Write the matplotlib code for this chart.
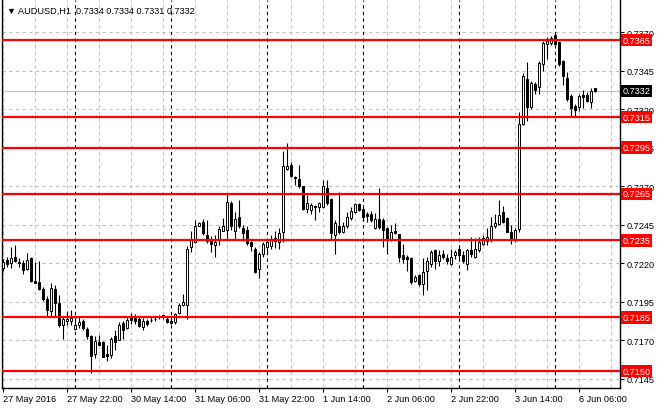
import matplotlib
matplotlib.use('Agg')
import matplotlib.pyplot as plt
import numpy as np

plt.rcParams['font.family'] = ['Liberation Sans', 'DejaVu Sans']

# AUDUSD H1 bars, 27 May 2016 06:00 -> 6 Jun 2016 10:00
opens = [
    0.72168, 0.72219, 0.72205, 0.72243, 0.72211, 0.72200, 0.72164, 0.72236, 0.72088, 0.72076,
    0.72030, 0.71966, 0.71891, 0.72034, 0.71945, 0.71802, 0.71823, 0.71823, 0.71770, 0.71802,
    0.71823, 0.71774, 0.71727, 0.71614, 0.71689, 0.71689, 0.71608, 0.71604, 0.71727, 0.71704,
    0.71815, 0.71781, 0.71844, 0.71844, 0.71839, 0.71783, 0.71826, 0.71831, 0.71839, 0.71848,
    0.71863, 0.71839, 0.71826, 0.71816, 0.71874, 0.71928, 0.71928, 0.72308, 0.72338, 0.72444,
    0.72467, 0.72386, 0.72347, 0.72317, 0.72353, 0.72407, 0.72418, 0.72590, 0.72407, 0.72500,
    0.72428, 0.72418, 0.72338, 0.72296, 0.72160, 0.72263, 0.72306, 0.72313, 0.72344, 0.72335,
    0.72400, 0.72814, 0.72836, 0.72760, 0.72749, 0.72699, 0.72551, 0.72546, 0.72570, 0.72568,
    0.72568, 0.72688, 0.72618, 0.72383, 0.72444, 0.72405, 0.72444, 0.72492, 0.72531, 0.72583,
    0.72553, 0.72518, 0.72518, 0.72431, 0.72487, 0.72481, 0.72431, 0.72356, 0.72409, 0.72387,
    0.72255, 0.72240, 0.72236, 0.72087, 0.72124, 0.72065, 0.72152, 0.72196, 0.72284, 0.72212,
    0.72262, 0.72233, 0.72196, 0.72255, 0.72290, 0.72255, 0.72196, 0.72284, 0.72240, 0.72284,
    0.72328, 0.72343, 0.72350, 0.72444, 0.72452, 0.72531, 0.72492, 0.72404, 0.72350, 0.72425,
    0.73105, 0.73397, 0.73213, 0.73365, 0.73343, 0.73494, 0.73624, 0.73630, 0.73682, 0.73639,
    0.73516, 0.73401, 0.73289, 0.73224, 0.73213, 0.73293, 0.73293, 0.73250, 0.73340,
]
highs = [
    0.72228, 0.72243, 0.72307, 0.72317, 0.72232, 0.72222, 0.72264, 0.72243, 0.72207, 0.72215,
    0.72045, 0.71987, 0.72072, 0.72062, 0.71994, 0.71853, 0.71887, 0.71896, 0.71860, 0.71853,
    0.71838, 0.71785, 0.71732, 0.71725, 0.71732, 0.71695, 0.71668, 0.71721, 0.71768, 0.71817,
    0.71828, 0.71849, 0.71874, 0.71869, 0.71848, 0.71844, 0.71837, 0.71848, 0.71852, 0.71861,
    0.71865, 0.71848, 0.71848, 0.71880, 0.71941, 0.71999, 0.72310, 0.72407, 0.72482, 0.72471,
    0.72489, 0.72482, 0.72375, 0.72381, 0.72439, 0.72497, 0.72654, 0.72605, 0.72536, 0.72611,
    0.72450, 0.72439, 0.72347, 0.72306, 0.72274, 0.72335, 0.72344, 0.72383, 0.72409, 0.72426,
    0.72928, 0.72982, 0.72858, 0.72764, 0.72841, 0.72703, 0.72644, 0.72590, 0.72579, 0.72601,
    0.72742, 0.72742, 0.72623, 0.72481, 0.72666, 0.72470, 0.72531, 0.72568, 0.72590, 0.72590,
    0.72568, 0.72535, 0.72540, 0.72524, 0.72688, 0.72492, 0.72437, 0.72448, 0.72459, 0.72393,
    0.72328, 0.72251, 0.72240, 0.72124, 0.72131, 0.72233, 0.72240, 0.72284, 0.72295, 0.72284,
    0.72284, 0.72262, 0.72295, 0.72284, 0.72306, 0.72277, 0.72295, 0.72371, 0.72361, 0.72371,
    0.72382, 0.72426, 0.72503, 0.72518, 0.72612, 0.72569, 0.72503, 0.72448, 0.72426, 0.73181,
    0.73436, 0.73505, 0.73386, 0.73375, 0.73516, 0.73645, 0.73667, 0.73678, 0.73689, 0.73645,
    0.73522, 0.73440, 0.73300, 0.73235, 0.73300, 0.73328, 0.73311, 0.73337, 0.73340,
]
lows = [
    0.72147, 0.72173, 0.72168, 0.72207, 0.72173, 0.72130, 0.72158, 0.72079, 0.72072, 0.72026,
    0.71955, 0.71860, 0.71855, 0.71860, 0.71785, 0.71710, 0.71802, 0.71802, 0.71764, 0.71781,
    0.71768, 0.71710, 0.71487, 0.71583, 0.71668, 0.71589, 0.71568, 0.71583, 0.71636, 0.71700,
    0.71710, 0.71774, 0.71805, 0.71805, 0.71788, 0.71766, 0.71794, 0.71816, 0.71826, 0.71837,
    0.71837, 0.71809, 0.71805, 0.71805, 0.71869, 0.71923, 0.71837, 0.72274, 0.72332, 0.72439,
    0.72386, 0.72332, 0.72274, 0.72241, 0.72321, 0.72407, 0.72353, 0.72418, 0.72353, 0.72428,
    0.72343, 0.72321, 0.72282, 0.72139, 0.72104, 0.72241, 0.72274, 0.72296, 0.72300, 0.72296,
    0.72339, 0.72808, 0.72758, 0.72710, 0.72688, 0.72546, 0.72524, 0.72518, 0.72481, 0.72535,
    0.72562, 0.72579, 0.72350, 0.72263, 0.72387, 0.72394, 0.72431, 0.72481, 0.72524, 0.72540,
    0.72481, 0.72466, 0.72470, 0.72422, 0.72422, 0.72306, 0.72262, 0.72343, 0.72393, 0.72207,
    0.72203, 0.72152, 0.72065, 0.72076, 0.72050, 0.71993, 0.72028, 0.72174, 0.72163, 0.72181,
    0.72229, 0.72196, 0.72190, 0.72229, 0.72225, 0.72203, 0.72159, 0.72240, 0.72233, 0.72273,
    0.72317, 0.72317, 0.72339, 0.72431, 0.72448, 0.72459, 0.72400, 0.72328, 0.72339, 0.72403,
    0.73095, 0.73127, 0.73203, 0.73300, 0.73300, 0.73451, 0.73527, 0.73617, 0.73617, 0.73479,
    0.73358, 0.73257, 0.73149, 0.73149, 0.73192, 0.73207, 0.73246, 0.73208, 0.73310,
]
closes = [
    0.72207, 0.72198, 0.72236, 0.72215, 0.72202, 0.72158, 0.72222, 0.72087, 0.72075, 0.72030,
    0.71966, 0.71896, 0.72040, 0.71945, 0.71796, 0.71838, 0.71836, 0.71845, 0.71802, 0.71817,
    0.71781, 0.71727, 0.71600, 0.71695, 0.71672, 0.71593, 0.71597, 0.71710, 0.71689, 0.71802,
    0.71768, 0.71832, 0.71831, 0.71826, 0.71794, 0.71826, 0.71805, 0.71832, 0.71840, 0.71849,
    0.71848, 0.71816, 0.71811, 0.71869, 0.71930, 0.71951, 0.72295, 0.72351, 0.72439, 0.72461,
    0.72396, 0.72343, 0.72325, 0.72338, 0.72424, 0.72439, 0.72596, 0.72439, 0.72489, 0.72439,
    0.72396, 0.72332, 0.72310, 0.72143, 0.72263, 0.72328, 0.72335, 0.72350, 0.72365, 0.72398,
    0.72830, 0.72830, 0.72764, 0.72756, 0.72703, 0.72553, 0.72590, 0.72579, 0.72566, 0.72590,
    0.72699, 0.72590, 0.72394, 0.72459, 0.72400, 0.72444, 0.72503, 0.72540, 0.72583, 0.72546,
    0.72503, 0.72509, 0.72481, 0.72487, 0.72437, 0.72415, 0.72356, 0.72400, 0.72398, 0.72240,
    0.72229, 0.72229, 0.72080, 0.72109, 0.72065, 0.72146, 0.72218, 0.72273, 0.72218, 0.72255,
    0.72240, 0.72212, 0.72240, 0.72273, 0.72255, 0.72212, 0.72284, 0.72262, 0.72295, 0.72339,
    0.72365, 0.72371, 0.72444, 0.72459, 0.72514, 0.72470, 0.72404, 0.72356, 0.72415, 0.73105,
    0.73414, 0.73213, 0.73371, 0.73328, 0.73501, 0.73630, 0.73645, 0.73661, 0.73624, 0.73494,
    0.73414, 0.73267, 0.73207, 0.73198, 0.73285, 0.73280, 0.73257, 0.73321, 0.73320,
]

levels = [0.7365, 0.7315, 0.7295, 0.7265, 0.7235, 0.7185, 0.7150]
price_ticks = [0.7370, 0.7345, 0.7320, 0.7295, 0.7270, 0.7245, 0.7220, 0.7195, 0.7170, 0.7145]
last_price = 0.7332
time_labels = ['27 May 2016', '27 May 22:00', '30 May 14:00', '31 May 06:00', '31 May 22:00',
               '1 Jun 14:00', '2 Jun 06:00', '2 Jun 22:00', '3 Jun 14:00', '6 Jun 06:00']
label_bars = [0, 16, 32, 48, 64, 80, 96, 112, 128, 144]
day_starts = [18, 42, 66, 90, 114, 138]
title = '\u25bc AUDUSD,H1  0.7334 0.7334 0.7331 0.7332'

o = np.array(opens)
h = np.array(highs)
l = np.array(lows)
c = np.array(closes)
idx = np.arange(len(o))

fs = 6.6
fig = plt.figure(figsize=(6.6, 4.1), dpi=100)
ax = fig.add_axes([2 / 660, 1 - 389 / 410, 618 / 660, 388 / 410])
ax.set_xlim(-0.2, 154.3)
ax.set_ylim(0.71390, 0.73910)

grid_kw = dict(color='#c0c0c0', lw=0.8, ls=(0, (3, 3)), zorder=0)
for gx in range(0, 160, 8):
    ax.axvline(gx, **grid_kw)
for gy in price_ticks:
    ax.axhline(gy, **grid_kw)
for d in day_starts:
    ax.axvline(d, color='black', lw=0.8, ls=(0, (3, 3)), zorder=1)
ax.axhline(last_price, color='#c0c0c0', lw=0.8, zorder=1)

# candles
ax.vlines(idx, l, h, color='black', lw=0.8, zorder=3)
up = c >= o
body_lo = np.minimum(o, c)
body_h = np.maximum(np.abs(c - o), 0.00002)
ax.bar(idx[up], body_h[up], bottom=body_lo[up], width=0.55, color='white',
       edgecolor='black', lw=0.7, zorder=4)
ax.bar(idx[~up], body_h[~up], bottom=body_lo[~up], width=0.55, color='black',
       edgecolor='black', lw=0.7, zorder=4)

# horizontal levels
for lv in levels:
    ax.axhline(lv, color='#ff0000', lw=1.6, zorder=5)
    ax.text(1.004, lv, '%.4f' % lv, transform=ax.get_yaxis_transform(), color='white',
            fontsize=fs, ha='left', va='center', clip_on=False, zorder=6,
            bbox=dict(boxstyle='square,pad=0.2', fc='#ff0000', ec='none'))
ax.text(1.004, last_price, '%.4f' % last_price, transform=ax.get_yaxis_transform(),
        color='white', fontsize=fs, ha='left', va='center', clip_on=False, zorder=6,
        bbox=dict(boxstyle='square,pad=0.2', fc='black', ec='none'))

ax.annotate(title, xy=(0, 1), xycoords='axes fraction', xytext=(5, -10),
            textcoords='offset pixels', fontsize=fs, va='center', ha='left')

ax.yaxis.tick_right()
ax.set_yticks(price_ticks)
ax.set_yticklabels(['%.4f' % t for t in price_ticks])
ax.set_xticks(label_bars)
ax.set_xticklabels(time_labels, ha='left')
ax.tick_params(axis='both', labelsize=fs, length=3, width=0.8, color='black', pad=1.5)

for side in ['left', 'right', 'bottom']:
    ax.spines[side].set_linewidth(1)
ax.spines['top'].set_visible(False)

fig.savefig('out.png', dpi=100)
